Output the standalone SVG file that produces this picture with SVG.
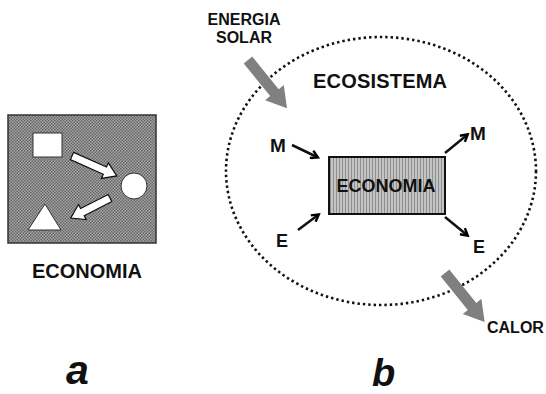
<svg xmlns="http://www.w3.org/2000/svg" width="546" height="394" viewBox="0 0 546 394">
<defs>
<pattern id="dots" width="3" height="3" patternUnits="userSpaceOnUse">
<rect width="3" height="3" fill="#a6a6a6"/>
<rect x="0" y="0" width="1.5" height="1.5" fill="#666"/>
<rect x="1.5" y="1.5" width="1.5" height="1.5" fill="#666"/>
</pattern>
<pattern id="vlines" width="3" height="3" patternUnits="userSpaceOnUse">
<rect width="3" height="3" fill="#c4c4c4"/>
<rect x="0" y="0" width="1" height="3" fill="#8e8e8e"/>
</pattern>
<marker id="ah" markerWidth="10" markerHeight="10" refX="7" refY="5" orient="auto" markerUnits="userSpaceOnUse" viewBox="0 0 10 10">
<path d="M1,1 L8,5 L1,9" fill="none" stroke="#000" stroke-width="2.4" stroke-linejoin="miter"/>
</marker>
</defs>
<style>
text{font-family:"Liberation Sans",Arial,sans-serif;font-weight:bold;fill:#111}
.blk{stroke:#111;stroke-width:2.5;fill:none;marker-end:url(#ah)}
.grey{fill:#808080}
.wa{fill:#fff;stroke:#111;stroke-width:1.2}
</style>

<g id="panel-a">
<rect x="8" y="115" width="148" height="128" fill="url(#dots)" stroke="#333" stroke-width="1.5"/>
<rect x="33" y="133" width="29" height="24" fill="#fff" stroke="#333" stroke-width="1"/>
<circle cx="134" cy="186" r="13" fill="#fff" stroke="#333" stroke-width="1"/>
<polygon points="45,204 28,230 61,230" fill="#fff" stroke="#333" stroke-width="1"/>
<polygon class="wa" transform="translate(72,156) rotate(24)" points="0,-4 36,-4 36,-8.5 49,0 36,8.5 36,4 0,4"/>
<polygon class="wa" transform="translate(110,198) rotate(153)" points="0,-4 31,-4 31,-8.5 44,0 31,8.5 31,4 0,4"/>
<text x="87" y="278" font-size="20" text-anchor="middle" textLength="110">ECONOMIA</text>
</g>

<g id="ecosistema">
<ellipse cx="381" cy="171" rx="155" ry="134" fill="none" stroke="#111" stroke-width="2.6" stroke-dasharray="2.4 3" />
<text x="313" y="88" font-size="20" textLength="134">ECOSISTEMA</text>
</g>

<g id="economia">
<rect x="329" y="157" width="116" height="57" fill="url(#vlines)" stroke="#111" stroke-width="2"/>
<text x="386" y="192" font-size="18" text-anchor="middle">ECONOMIA</text>
</g>

<g id="energia-solar">
<text x="244" y="25" font-size="16" text-anchor="middle">ENERGIA</text>
<text x="244" y="43" font-size="16" text-anchor="middle">SOLAR</text>
</g>

<g id="calor">
<text x="487" y="333" font-size="16">CALOR</text>
</g>

<g id="labels">
<text x="270" y="152" font-size="19">M</text>
<text x="470" y="140" font-size="19">M</text>
<text x="276" y="247" font-size="18">E</text>
<text x="473" y="253" font-size="18">E</text>
<text x="66" y="384" font-size="41" font-style="italic">a</text>
<text x="372" y="386" font-size="38" font-style="italic">b</text>
</g>

<g id="connectors">
<polygon class="grey" transform="translate(248,60) rotate(51)" points="0,-5.5 42,-5.5 42,-12 62,0 42,12 42,5.5 0,5.5"/>
<polygon class="grey" transform="translate(445,273) rotate(51)" points="0,-5.5 43,-5.5 43,-12 63,0 43,12 43,5.5 0,5.5"/>
<line class="blk" x1="292" y1="145" x2="317" y2="157"/>
<line class="blk" x1="298" y1="230" x2="318" y2="215"/>
<line class="blk" x1="445" y1="153" x2="467" y2="135"/>
<line class="blk" x1="445" y1="217" x2="467" y2="235"/>
</g>
</svg>
